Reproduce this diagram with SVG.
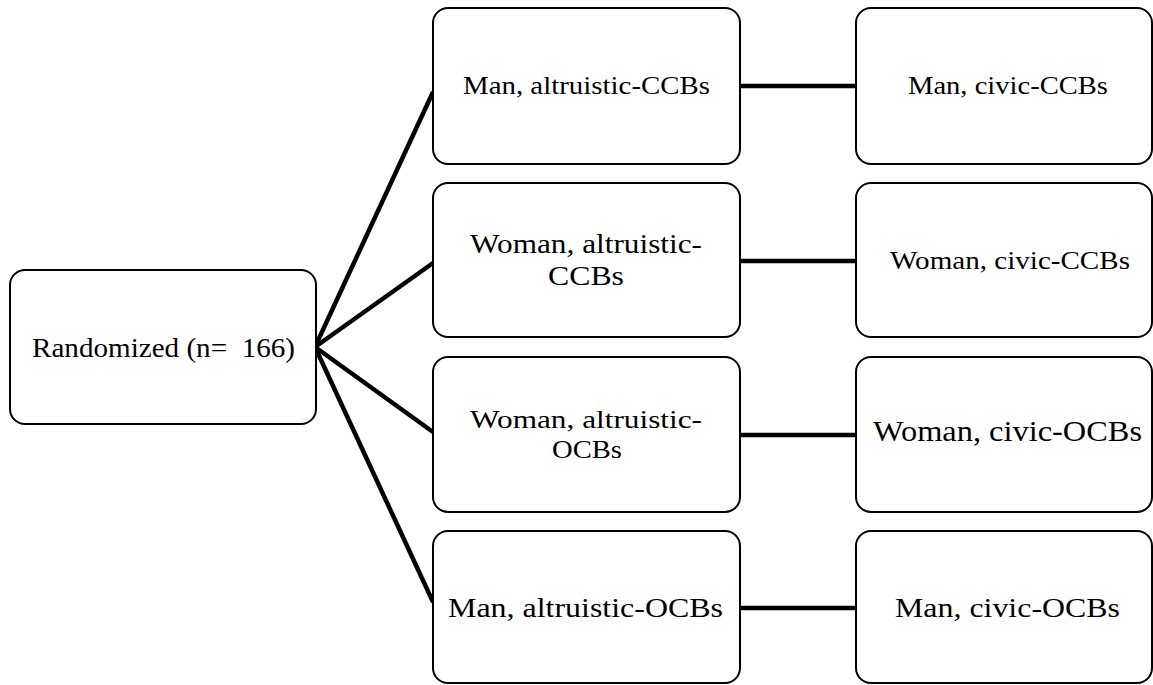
<svg xmlns="http://www.w3.org/2000/svg" width="1153" height="685" viewBox="0 0 1153 685">
  <style>
    .box { fill: #ffffff; stroke: #000000; stroke-width: 2; }
    .lbl { font-family: 'Liberation Serif', serif; font-size: 27px; fill: #000000; text-anchor: middle; white-space: pre; }
    .link { stroke: #000000; stroke-width: 4.5; fill: none; stroke-linecap: butt; }
  </style>
  <rect width="1153" height="685" fill="#ffffff"/>

  <g id="connectors">
    <line class="link" x1="315" y1="347" x2="433" y2="92"/>
    <line class="link" x1="315" y1="347" x2="433" y2="263"/>
    <line class="link" x1="315" y1="347" x2="433" y2="432"/>
    <line class="link" x1="315" y1="347" x2="433" y2="602"/>
    <line class="link" x1="737" y1="86" x2="856" y2="86"/>
    <line class="link" x1="737" y1="261" x2="856" y2="261"/>
    <line class="link" x1="737" y1="435" x2="856" y2="435"/>
    <line class="link" x1="737" y1="608" x2="856" y2="608"/>
  </g>

  <g id="randomized">
    <rect class="box" x="10" y="270" width="306" height="154" rx="15"/>
    <text class="lbl" x="163.5" y="357" textLength="263" lengthAdjust="spacingAndGlyphs" xml:space="preserve">Randomized (n=  166)</text>
  </g>

  <g id="man-altruistic-ccbs">
    <rect class="box" x="433" y="8" width="307" height="156" rx="15"/>
    <text class="lbl" x="586.5" y="94" textLength="247" lengthAdjust="spacingAndGlyphs" style="font-size:26px">Man, altruistic-CCBs</text>
  </g>
  <g id="woman-altruistic-ccbs">
    <rect class="box" x="433" y="183" width="307" height="154" rx="15"/>
    <text class="lbl" x="586" y="253" textLength="232" lengthAdjust="spacingAndGlyphs">Woman, altruistic-</text>
    <text class="lbl" x="586" y="285" textLength="76" lengthAdjust="spacingAndGlyphs">CCBs</text>
  </g>
  <g id="woman-altruistic-ocbs">
    <rect class="box" x="433" y="357" width="307" height="155" rx="15"/>
    <text class="lbl" x="586" y="428" textLength="232" lengthAdjust="spacingAndGlyphs" style="font-size:26px">Woman, altruistic-</text>
    <text class="lbl" x="587" y="458" textLength="70" lengthAdjust="spacingAndGlyphs" style="font-size:26px">OCBs</text>
  </g>
  <g id="man-altruistic-ocbs">
    <rect class="box" x="433" y="531" width="307" height="152" rx="15"/>
    <text class="lbl" x="585.5" y="617" textLength="275" lengthAdjust="spacingAndGlyphs" style="font-size:28px">Man, altruistic-OCBs</text>
  </g>

  <g id="man-civic-ccbs">
    <rect class="box" x="856" y="8" width="296" height="156" rx="15"/>
    <text class="lbl" x="1008" y="94" textLength="200" lengthAdjust="spacingAndGlyphs" style="font-size:26px">Man, civic-CCBs</text>
  </g>
  <g id="woman-civic-ccbs">
    <rect class="box" x="856" y="183" width="296" height="154" rx="15"/>
    <text class="lbl" x="1010" y="269" textLength="240" lengthAdjust="spacingAndGlyphs" style="font-size:26px">Woman, civic-CCBs</text>
  </g>
  <g id="woman-civic-ocbs">
    <rect class="box" x="856" y="357" width="296" height="155" rx="15"/>
    <text class="lbl" x="1007.5" y="441" textLength="269" lengthAdjust="spacingAndGlyphs" style="font-size:29px">Woman, civic-OCBs</text>
  </g>
  <g id="man-civic-ocbs">
    <rect class="box" x="856" y="531" width="296" height="152" rx="15"/>
    <text class="lbl" x="1007.5" y="617" textLength="225" lengthAdjust="spacingAndGlyphs" style="font-size:28px">Man, civic-OCBs</text>
  </g>
</svg>
